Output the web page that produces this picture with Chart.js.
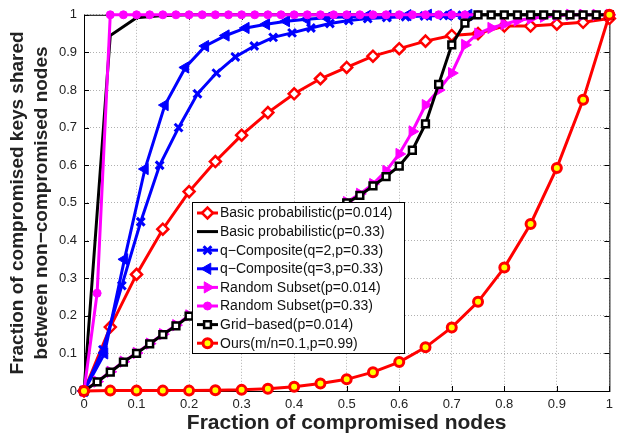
<!DOCTYPE html>
<html>
<head>
<meta charset="utf-8">
<script src="https://cdn.jsdelivr.net/npm/chart.js"></script>
<style>
  html, body { margin: 0; padding: 0; background: #fff; }
  #wrap { width: 619px; height: 437px; }
</style>
</head>
<body>
<div id="wrap"><canvas id="chart" width="619" height="437"></canvas></div>
<script>
// x positions (fraction of compromised nodes)
const x05 = [0, 0.05, 0.1, 0.15, 0.2, 0.25, 0.3, 0.35, 0.4, 0.45, 0.5, 0.55, 0.6, 0.65, 0.7, 0.75, 0.8, 0.85, 0.9, 0.95, 1];
const x025 = [0, 0.025, 0.05, 0.075, 0.1, 0.125, 0.15, 0.175, 0.2, 0.225, 0.25, 0.275, 0.3, 0.325, 0.35, 0.375, 0.4,
  0.425, 0.45, 0.475, 0.5, 0.525, 0.55, 0.575, 0.6, 0.625, 0.65, 0.675, 0.7, 0.725, 0.75, 0.775, 0.8, 0.825, 0.85,
  0.875, 0.9, 0.925, 0.95, 0.975, 1];
const xBasic33 = [0, 0.05, 0.1, 0.15, 0.2, 0.3, 0.4, 0.5, 0.6, 0.7, 0.8, 0.9, 1];
const xQ2 = [0, 0.036, 0.072, 0.108, 0.144, 0.18, 0.216, 0.252, 0.288, 0.324, 0.36, 0.396, 0.432, 0.468, 0.504,
  0.54, 0.576, 0.612, 0.648, 0.684, 0.72];
const xQ3 = [0, 0.039, 0.077, 0.116, 0.154, 0.193, 0.231, 0.27, 0.308, 0.347, 0.385, 0.424, 0.462, 0.501, 0.539,
  0.578, 0.616, 0.655, 0.693, 0.732];
const xRs33 = x025.slice(0, 31);

// series values (fraction of compromised keys)
const basic014 = [0, 0.17, 0.31, 0.43, 0.53, 0.61, 0.68, 0.74, 0.79, 0.83, 0.86, 0.89, 0.91, 0.93, 0.945, 0.95,
  0.97, 0.97, 0.975, 0.98, 0.99];
const basic33 = [0, 0.945, 0.992, 0.998, 1, 1, 1, 1, 1, 1, 1, 1, 1];
const qComp2 = [0, 0.11, 0.28, 0.45, 0.6, 0.7, 0.79, 0.845, 0.888, 0.917, 0.94, 0.952, 0.965, 0.977, 0.985, 0.99,
  0.993, 0.995, 0.997, 0.998, 0.999];
const qComp3 = [0, 0.1, 0.35, 0.59, 0.76, 0.86, 0.917, 0.945, 0.965, 0.975, 0.983, 0.988, 0.992, 0.995, 0.997,
  0.998, 0.999, 1, 1, 1];
const randSub014 = [0, 0.025, 0.051, 0.078, 0.101, 0.126, 0.151, 0.175, 0.201, 0.226, 0.251, 0.276, 0.301, 0.326,
  0.351, 0.376, 0.401, 0.426, 0.451, 0.476, 0.502, 0.524, 0.55, 0.585, 0.63, 0.69, 0.76, 0.8, 0.845, 0.92, 0.95,
  0.965, 0.975, 0.985, 0.99, 0.995, 0.998, 1, 1, 1, 1];
const randSub33 = [0, 0.26, 1, 1, 1, 1, 1, 1, 1, 1, 1, 1, 1, 1, 1, 1, 1, 1, 1, 1, 1, 1, 1, 1, 1, 1, 1, 1, 1, 1, 1];
const gridBased = [0, 0.024, 0.05, 0.077, 0.1, 0.125, 0.15, 0.173, 0.199, 0.224, 0.249, 0.274, 0.299, 0.324, 0.349,
  0.374, 0.399, 0.424, 0.449, 0.474, 0.5, 0.52, 0.545, 0.57, 0.598, 0.64, 0.71, 0.815, 0.92, 0.978, 1, 1, 1, 1, 1,
  1, 1, 1, 1, 1, 1];
const ours = [0, 0.001, 0.001, 0.001, 0.001, 0.002, 0.003, 0.006, 0.011, 0.02, 0.031, 0.05, 0.077, 0.116, 0.169,
  0.237, 0.328, 0.444, 0.593, 0.774, 1];

const xTickLabels = ['0', '0.1', '0.2', '0.3', '0.4', '0.5', '0.6', '0.7', '0.8', '0.9', '1'];
const yTickLabels = ['0', '0.1', '0.2', '0.3', '0.4', '0.5', '0.6', '0.7', '0.8', '0.9', '1'];

const pts = (xs, ys) => ys.map((y, i) => ({ x: xs[i], y: y }));

function series(label, xs, ys, color, style) {
  return Object.assign({
    label: label,
    data: pts(xs, ys),
    borderColor: color,
    borderWidth: 3,
    tension: 0,
    clip: false,
    pointBorderColor: color,
    pointBackgroundColor: color,
    pointBorderWidth: 2.5,
    pointRadius: 5
  }, style);
}

const datasets = [
  series('Basic probabilistic(p=0.014)', x05, basic014, '#ff0000', { pointStyle: 'rectRot', pointBackgroundColor: '#ffffff', pointRadius: 5.5 }),
  series('Basic probabilistic(p=0.33)', xBasic33, basic33, '#000000', { pointRadius: 0 }),
  series('q\u2212Composite(q=2,p=0.33)', xQ2, qComp2, '#0000ff', { pointStyle: 'crossRot', pointRadius: 5.5, pointBorderWidth: 3 }),
  series('q\u2212Composite(q=3,p=0.33)', xQ3, qComp3, '#0000ff', { pointStyle: 'triangle', pointRotation: -90, pointRadius: 6.5, pointBorderWidth: 1 }),
  series('Random Subset(p=0.014)', x025, randSub014, '#ff00ff', { pointStyle: 'triangle', pointRotation: 90, pointRadius: 6.5, pointBorderWidth: 1 }),
  series('Random Subset(p=0.33)', xRs33, randSub33, '#ff00ff', { pointStyle: 'circle', pointRadius: 4, pointBorderWidth: 1 }),
  series('Grid\u2212based(p=0.014)', x025, gridBased, '#000000', { pointStyle: 'rect', pointBackgroundColor: '#ffffff', pointRadius: 4.8 }),
  series('Ours(m/n=0.1,p=0.99)', x05, ours, '#ff0000', { pointStyle: 'circle', pointBackgroundColor: '#ffff00', pointRadius: 4.5, pointBorderWidth: 3 })
];
// later series are painted on top, like in the original plot
datasets.forEach((d, i) => { d.order = datasets.length - i; });

function drawMarker(ctx, ds, x, y) {
  const r = ds.pointRadius;
  if (!r) return;
  const rad = (ds.pointRotation || 0) * Math.PI / 180;
  ctx.save();
  ctx.lineWidth = ds.pointBorderWidth;
  ctx.strokeStyle = ds.pointBorderColor;
  ctx.fillStyle = ds.pointBackgroundColor;
  ctx.beginPath();
  if (ds.pointStyle === 'circle') {
    ctx.arc(x, y, r, 0, 2 * Math.PI);
  } else if (ds.pointStyle === 'rect') {
    const s = r * Math.SQRT1_2;
    ctx.rect(x - s, y - s, 2 * s, 2 * s);
  } else if (ds.pointStyle === 'rectRot') {
    ctx.moveTo(x - r, y); ctx.lineTo(x, y - r); ctx.lineTo(x + r, y); ctx.lineTo(x, y + r);
    ctx.closePath();
  } else if (ds.pointStyle === 'triangle') {
    let a = rad;
    ctx.moveTo(x + Math.sin(a) * r, y - Math.cos(a) * r);
    a += 2 * Math.PI / 3;
    ctx.lineTo(x + Math.sin(a) * r, y - Math.cos(a) * r);
    a += 2 * Math.PI / 3;
    ctx.lineTo(x + Math.sin(a) * r, y - Math.cos(a) * r);
    ctx.closePath();
  } else if (ds.pointStyle === 'crossRot') {
    const s = r * Math.SQRT1_2;
    ctx.moveTo(x - s, y - s); ctx.lineTo(x + s, y + s);
    ctx.moveTo(x + s, y - s); ctx.lineTo(x - s, y + s);
  }
  if (ds.pointStyle !== 'crossRot') ctx.fill();
  ctx.stroke();
  ctx.restore();
}

// axes box with inward ticks (matlab style)
const boxPlugin = {
  id: 'box',
  beforeDatasetsDraw(chart) {
    const { ctx, chartArea: a, scales } = chart;
    ctx.save();
    ctx.strokeStyle = '#000';
    ctx.lineWidth = 1;
    ctx.strokeRect(a.left + 0.5, a.top + 0.5, a.right - a.left, a.bottom - a.top);
    ctx.beginPath();
    scales.x.ticks.forEach(t => {
      const px = Math.round(scales.x.getPixelForValue(t.value)) + 0.5;
      ctx.moveTo(px, a.bottom); ctx.lineTo(px, a.bottom - 5);
      ctx.moveTo(px, a.top); ctx.lineTo(px, a.top + 5);
    });
    scales.y.ticks.forEach(t => {
      const py = Math.round(scales.y.getPixelForValue(t.value)) + 0.5;
      ctx.moveTo(a.left, py); ctx.lineTo(a.left + 5, py);
      ctx.moveTo(a.right, py); ctx.lineTo(a.right - 5, py);
    });
    ctx.stroke();
    ctx.restore();
  }
};

// legend box inside the plot
const legendPlugin = {
  id: 'boxLegend',
  afterDatasetsDraw(chart) {
    const ctx = chart.ctx;
    const left = 192, top = 202, w = 212, h = 151, rowH = 18.6;
    ctx.save();
    ctx.fillStyle = '#fff';
    ctx.fillRect(left, top, w, h);
    ctx.strokeStyle = '#000';
    ctx.lineWidth = 1;
    ctx.strokeRect(left + 0.5, top + 0.5, w, h);
    ctx.font = "14px 'Liberation Sans', Arial, sans-serif";
    ctx.textBaseline = 'middle';
    chart.data.datasets.forEach((ds, i) => {
      const y = top + 11 + i * rowH;
      ctx.strokeStyle = ds.borderColor;
      ctx.lineWidth = ds.borderWidth;
      ctx.beginPath();
      ctx.moveTo(197, y); ctx.lineTo(218, y);
      ctx.stroke();
      drawMarker(ctx, ds, 207.5, y);
      ctx.fillStyle = '#111';
      ctx.fillText(ds.label, 220, y + 0.5);
    });
    ctx.restore();
  }
};

Chart.defaults.font.family = "'Liberation Sans', Arial, sans-serif";

new Chart(document.getElementById('chart'), {
  type: 'line',
  data: { datasets: datasets },
  plugins: [boxPlugin, legendPlugin],
  options: {
    responsive: false,
    animation: false,
    devicePixelRatio: 1,
    events: [],
    layout: { padding: { top: 10, right: 5, left: 0, bottom: 0 } },
    plugins: { legend: { display: false }, tooltip: { enabled: false } },
    scales: {
      x: {
        type: 'linear',
        min: 0,
        max: 1,
        ticks: {
          stepSize: 0.1, padding: 6, color: '#222', font: { size: 13 }, maxRotation: 0, autoSkip: false,
          callback: (v, i) => xTickLabels[i]
        },
        grid: { color: '#b0b0b0', lineWidth: 1, drawTicks: false },
        border: { display: false, dash: [1, 2] },
        title: {
          display: true, text: 'Fraction of compromised nodes', color: '#222',
          font: { size: 21, weight: 'bold' }, padding: { top: 0, bottom: 1 }
        },
        afterFit: s => { s.height = 46; }
      },
      y: {
        type: 'linear',
        min: 0,
        max: 1,
        ticks: {
          stepSize: 0.1, padding: 7, color: '#222', font: { size: 13 },
          callback: (v, i) => yTickLabels[i]
        },
        grid: { color: '#b0b0b0', lineWidth: 1, drawTicks: false },
        border: { display: false, dash: [1, 2] },
        title: {
          display: true,
          text: ['Fraction of compromised keys shared', 'between non\u2212compromised nodes'],
          color: '#222',
          font: { size: 19, weight: 'bold', lineHeight: 1.3 },
          padding: { top: 5, bottom: 0 }
        },
        afterFit: s => { s.width = 84; }
      }
    }
  }
});
</script>
</body>
</html>
